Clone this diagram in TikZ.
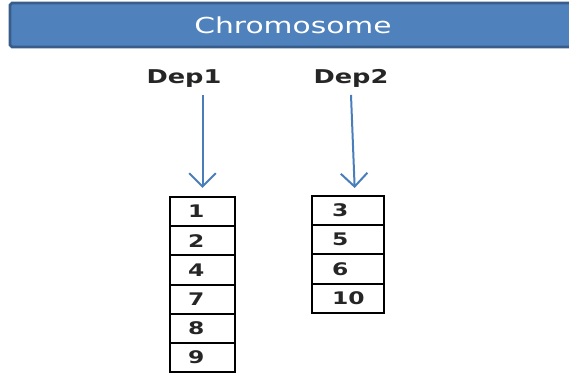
\documentclass[tikz,border=0pt]{standalone}
\usepackage{fontspec}
\setmainfont{DejaVu Sans}
\newfontfamily\widefont[FakeStretch=1.35]{DejaVu Sans}
\usetikzlibrary{positioning,arrows.meta}
\definecolor{barblue}{HTML}{4F81BD}
\definecolor{barline}{HTML}{385D8A}
\definecolor{arrowblue}{HTML}{4A7EBB}
\definecolor{inktext}{HTML}{262626}
\tikzstyle{bar} = [draw=barline, fill=barblue, line width=2pt, rounded corners=0.05cm,
    minimum width=424.5pt, minimum height=33pt, text=white,
    font=\widefont\fontsize{16.5}{20}\selectfont]
\tikzstyle{deplabel} = [inner sep=0pt, anchor=base, text=inktext,
    font=\widefont\bfseries\fontsize{14.25}{17}\selectfont]
\tikzstyle{cell} = [draw, rectangle, line width=1.4pt, outer sep=0pt, minimum height=21.9pt,
    inner ysep=0pt, align=left, text=inktext,
    font=\widefont\bfseries\fontsize{13}{15}\selectfont]
\tikzstyle{cellA} = [cell, text width=21.75pt, inner xsep=13.5pt]
\tikzstyle{cellB} = [cell, text width=24pt, inner xsep=15pt]
\tikzstyle{arrowline} = [draw=arrowblue, line width=1.5pt, -{Straight Barb[length=10pt, width=20pt]}]

\begin{document}
\begin{tikzpicture}[x=0.75pt, y=-0.75pt, node distance=0pt]
    \useasboundingbox (0,0) rectangle (569,377);
    \node [bar] (chrom) at (293,25) {Chromosome};
    \node [deplabel] (dep1) at (184,84) {Dep1};
    \node [deplabel] (dep2) at (351,84) {Dep2};

    % first list
    \node [cellA, anchor=north] (a1) at (202.5,197) {1};
    \node [cellA, below=of a1] (a2) {2};
    \node [cellA, below=of a2] (a3) {4};
    \node [cellA, below=of a3] (a4) {7};
    \node [cellA, below=of a4] (a5) {8};
    \node [cellA, below=of a5] (a6) {9};

    % second list
    \node [cellB, anchor=north] (b1) at (348,196) {3};
    \node [cellB, below=of b1] (b2) {5};
    \node [cellB, below=of b2] (b3) {6};
    \node [cellB, below=of b3] (b4) {10};

    \draw [arrowline] ([yshift=-5pt]dep1.south -| a1.north) -- ([yshift=6.75pt]a1.north);
    \draw [arrowline] ([yshift=-5pt]dep2.south) -- ([xshift=5pt, yshift=6pt]b1.north);
\end{tikzpicture}
\end{document}
